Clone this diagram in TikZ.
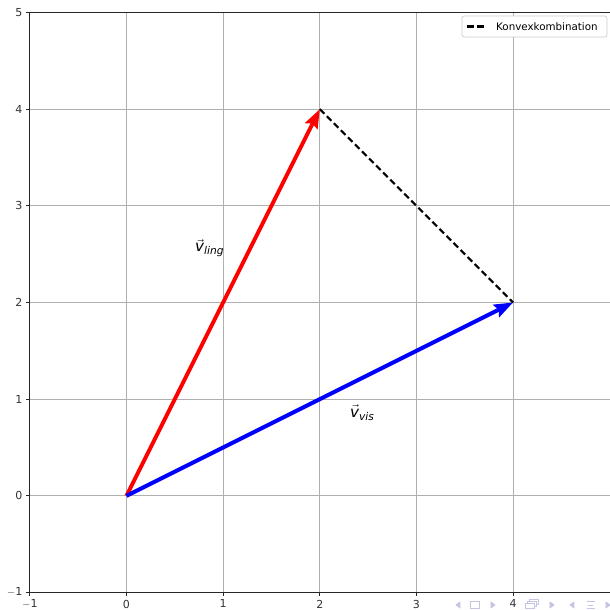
\documentclass[tikz,border=0pt]{standalone}
\usepackage{amsmath}
\usepackage{fontspec}
\setmainfont{DejaVu Sans}
\usetikzlibrary{arrows.meta}
\definecolor{gridgray}{RGB}{176,176,176}
\definecolor{navcol}{RGB}{196,196,228}
\definecolor{legborder}{RGB}{204,204,204}
\definecolor{mplred}{RGB}{255,0,0}
\definecolor{mplblue}{RGB}{0,0,255}
\tikzset{
  gridline/.style={draw=gridgray, line width=0.7pt},
  spine/.style={draw=black!85, line width=0.85pt},
  tickmark/.style={draw=black!85, line width=0.7pt},
  ticklabel/.style={font=\fontsize{9.4}{10}\selectfont, text=black!80, inner sep=0pt},
  vecarrow/.style={line width=3.4pt, -{Stealth[length=16pt, width=11.5pt, inset=2.2pt]}},
  combo/.style={draw=black, line width=1.8pt, dash pattern=on 5.5pt off 3pt},
  legcombo/.style={draw=black, line width=1.8pt, dash pattern=on 6pt off 2.8pt},
  veclabel/.style={font=\fontsize{13}{15}\selectfont, inner sep=0pt},
  navicon/.style={draw=navcol, fill=navcol, line width=0.6pt},
  navline/.style={draw=navcol, line width=0.8pt}
}
\begin{document}
\begin{tikzpicture}[x=2.9cm,y=2.9cm]
\useasboundingbox (-1.3082,-1.1814) rectangle (5.0021,5.1289);
\fill[white] (-1.3082,-1.1814) rectangle (5.0021,5.1289);
% grid
\foreach \i in {0,...,4} {
  \draw[gridline] (\i,-1) -- (\i,5);
  \draw[gridline] (-1,\i) -- (5.0021,\i);
}
% spines
\draw[spine] (5.0021,5) -- (-1,5) -- (-1,-1) -- (5.0021,-1);
% ticks and labels
\foreach \i/\lab in {-1/{$-$1},0/0,1/1,2/2,3/3,4/4} {
  \draw[tickmark] (\i,-1) -- ++(0,-0.037);
  \node[ticklabel, anchor=north] (xt\i) at (\i,-1.075) {\lab};
}
\foreach \i/\lab in {-1/{$-$1},0/0,1/1,2/2,3/3,4/4,5/5} {
  \draw[tickmark] (-1,\i) -- ++(-0.037,0);
  \node[ticklabel, anchor=east] (yt\i) at (-1.075,\i) {\lab};
}
% vectors
\coordinate (O) at (0,0);
\coordinate (L) at (2,4);
\coordinate (V) at (4,2);
\draw[combo] (L) -- (V);
\draw[vecarrow, draw=mplred, fill=mplred] (O) -- (L);
\draw[vecarrow, draw=mplblue, fill=mplblue] (O) -- (V);
\node[veclabel] (lling) at (0.86,2.56) {$\vec{\textit{v}}_{\textit{ling}}$};
\node[veclabel] (lvis) at (2.44,0.86) {$\vec{\textit{v}}_{\textit{vis}}$};
% pixel-space overlay
\begin{scope}[shift={(-3.7938cm,14.8738cm)}, x=0.03cm, y=-0.03cm]
  % legend
  \draw[draw=legborder, fill=white, line width=0.6pt, rounded corners=2pt] (462,16) rectangle (607,37);
  \coordinate (ls) at (467,26.5);
  \coordinate (le) at (487,26.5);
  \draw[legcombo] (ls) -- (le);
  \node[anchor=west, inner sep=0pt, font=\fontsize{8.8}{10}\selectfont] (legtext) at (496,26.5) {Konvexkombination};
  % navigation symbols
  \filldraw[navicon] (460,602) -- (460,608) -- (456,605) -- cycle;
  \draw[navline] (470.5,601.5) rectangle (479.5,608.5);
  \filldraw[navicon] (491,602) -- (491,608) -- (495,605) -- cycle;
  \draw[navline, fill=white] (529,599.5) rectangle (538,604.5);
  \draw[navline, fill=white] (527,601.5) rectangle (536,606.5);
  \draw[navline, fill=white] (525,603.5) rectangle (534,608.5);
  \filldraw[navicon] (550,602) -- (550,608) -- (554,605) -- cycle;
  \filldraw[navicon] (574,602) -- (574,608) -- (570,605) -- cycle;
  \draw[navline] (587,601.5) -- (595,601.5);
  \draw[navline] (588.5,605) -- (593.5,605);
  \draw[navline] (587,608.5) -- (595,608.5);
  \filldraw[navicon] (606,602) -- (606,608) -- (610,605) -- cycle;
\end{scope}
\end{tikzpicture}
\end{document}
